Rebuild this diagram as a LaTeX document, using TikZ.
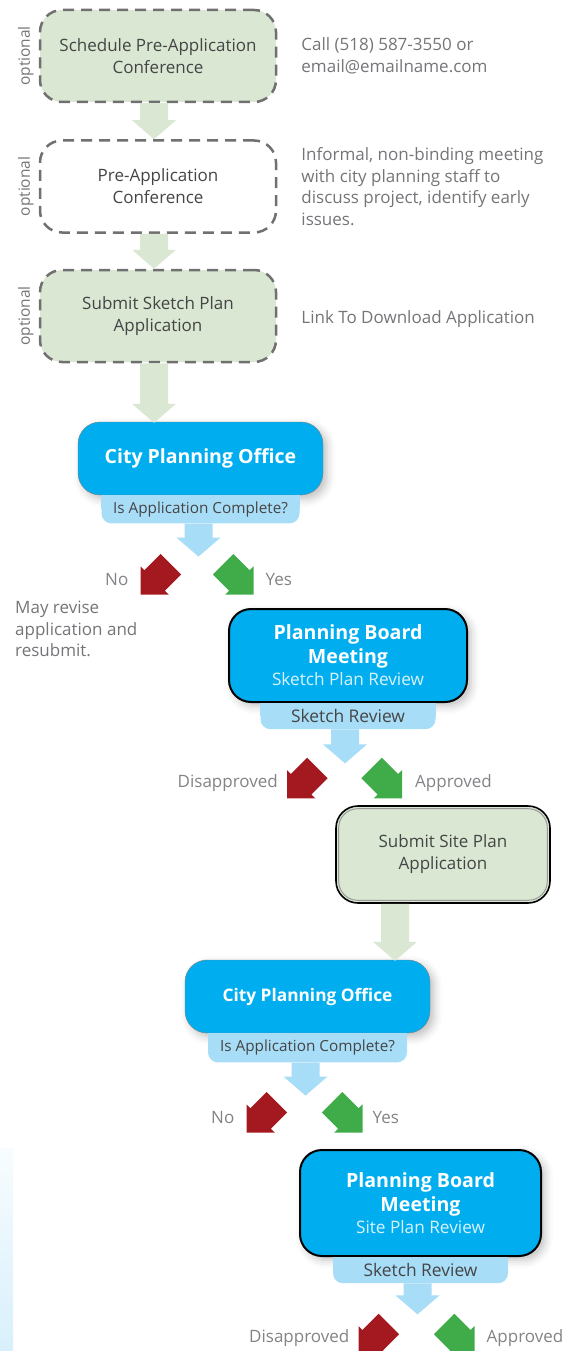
\documentclass[tikz,border=0pt]{standalone}
\usepackage{fontspec}
\setmainfont{Open Sans}
\usetikzlibrary{calc,positioning,shadows.blur}

\definecolor{stepgreen}{HTML}{D9E7D3}
\definecolor{dashgray}{HTML}{707070}
\definecolor{officeblue}{HTML}{00AEEF}
\definecolor{tabblue}{HTML}{A8DDF7}
\definecolor{nored}{HTML}{A3191F}
\definecolor{yesgreen}{HTML}{40AC49}
\definecolor{textgray}{HTML}{747578}
\definecolor{boxtext}{HTML}{454546}

% straight block arrow: colour, top of shaft, tip
\newcommand{\flowarrow}[3]{%
  \fill[#1] let \p1=#2, \p2=#3 in
    (\x2-14,\y1) -- (\x2+14,\y1) -- (\x2+14,\y2+19) -- (\x2+22,\y2+19)
    -- (\x2,\y2) -- (\x2-22,\y2+19) -- (\x2-14,\y2+19) -- cycle;}
% slanted block arrow: colour, tip, direction
\newcommand{\turnarrow}[3]{%
  \fill[#1, shift={#2}, rotate=#3] (0,0) -- (-20,20) -- (-20,14.5) -- (-43,14.5)
    -- (-43,-14.5) -- (-20,-14.5) -- (-20,-20) -- cycle;}

\begin{document}
\begin{tikzpicture}[
    x=1pt, y=1pt,
    stepbox/.style={rounded corners=22pt, minimum width=236pt, minimum height=92pt,
        align=center, text=boxtext, inner sep=0pt, font=\fontsize{17}{22}\selectfont},
    optbox/.style={stepbox, draw=dashgray, line width=2.5pt, dash pattern=on 11pt off 7pt},
    optional/.style={rotate=90, inner sep=0pt, text=textgray, font=\fontsize{15.5}{18}\selectfont},
    note/.style={align=left, inner sep=0pt, text=textgray, font=\fontsize{17}{21.5}\selectfont},
    office/.style={fill=officeblue, draw=gray, rounded corners=22pt, minimum width=245pt,
        minimum height=73pt, align=center, inner sep=0pt, text=white,
        blur shadow={shadow xshift=4pt, shadow yshift=-4pt, shadow blur radius=8pt, shadow opacity=25}},
    board/.style={office, draw=black, line width=2pt, minimum width=238pt, minimum height=93pt,
        font=\fontsize{19.6}{24}\selectfont},
    tab/.style={fill=tabblue, rounded corners=10pt, anchor=north, inner sep=0pt,
        text=boxtext, font=\fontsize{15.3}{18}\selectfont},
    answer/.style={inner sep=0pt, text=textgray!90, font=\fontsize{17}{20}\selectfont},
]
\useasboundingbox (0,0) rectangle (584,-1351);
\clip (0,0) rectangle (584,-1351);

% === optional steps ===
\node[optbox, fill=stepgreen] (sched) at (158,-56) {Schedule Pre-Application\\Conference};
\node[optbox, fill=white] (preapp) at (158,-186.5) {Pre-Application\\Conference};
\node[optbox, fill=stepgreen] (sketch) at (158,-316) {Submit Sketch Plan\\Application};

\foreach \b in {sched,preapp,sketch}
    \node[optional] (opt-\b) at ($(\b.west)+(-13,0)$) {optional};

\node[note, right=24pt of sched] (call) {Call (518) 587-3550 or\\email@emailname.com};
\node[note, right=24pt of preapp] (informal) {Informal, non-binding meeting\\with city planning staff to\\discuss project, identify early\\issues.};
\node[note, right=24pt of sketch, yshift=-3pt] (link) {Link To Download Application};

\flowarrow{stepgreen}{($(sched.south)+(-4,0)$)}{($(preapp.north)+(-4,0)$)}
\flowarrow{stepgreen}{($(preapp.south)+(-4,0)$)}{($(sketch.north)+(-4,0)$)}

% === sketch plan: office check ===
\node[office, font=\bfseries\fontsize{19.5}{24}\selectfont] (cpoA) at (200.5,-458.5) {City Planning Office};
\node[tab, minimum width=198pt, minimum height=28pt] (tabA) at (cpoA.south) {};
\fill[tabblue] (tabA.north west) rectangle (tabA.east);
\node[tab, anchor=center] (isA) at (tabA.center) {Is Application Complete?};
\flowarrow{stepgreen}{($(sketch.south)+(-4,0)$)}{($(sketch.south |- cpoA.north)+(-4,-1)$)}

\coordinate (qA) at ($(tabA.south)+(-2,-33)$);
\flowarrow{tabblue}{(tabA.south)}{(qA)}
\coordinate (noA) at ($(qA)+(-58,-38)$);
\coordinate (yesA) at ($(qA)+(55,-38)$);
\turnarrow{nored}{(noA)}{-135}
\turnarrow{yesgreen}{(yesA)}{-45}
\node[answer, anchor=east] (noTxtA) at ($(noA)+(-12,15)$) {No};
\node[answer, anchor=west] (yesTxtA) at ($(yesA)+(12,15)$) {Yes};
\node[note, anchor=north west] (revise) at (15,-601) {May revise\\application and\\resubmit.};

% === sketch plan: board review ===
\node[board] (pbmA) at (348,-655.5) {\textbf{Planning Board}\\\textbf{Meeting}\\[-2pt]
    {\fontsize{17.2}{20}\selectfont\color{white!85!officeblue}Sketch Plan Review}};
\node[tab, minimum width=175pt, minimum height=26pt] (tabB) at (pbmA.south) {};
\fill[tabblue] (tabB.north west) rectangle (tabB.east);
\node[tab, anchor=center, font=\fontsize{17.4}{20}\selectfont] (revB) at (tabB.center) {Sketch Review};

\coordinate (qB) at ($(tabB.south)+(-3,-34)$);
\flowarrow{tabblue}{($(tabB.south)+(-3,0)$)}{(qB)}
\coordinate (noB) at ($(qB)+(-58,-35)$);
\coordinate (yesB) at ($(qB)+(57,-35)$);
\turnarrow{nored}{(noB)}{-135}
\turnarrow{yesgreen}{(yesB)}{-45}
\node[answer, anchor=east] (noTxtB) at ($(noB)+(-9,15)$) {Disapproved};
\node[answer, anchor=west] (yesTxtB) at ($(yesB)+(13,15)$) {Approved};

% === site plan application ===
\node[stepbox, fill=stepgreen, draw=black, line width=1.6pt, minimum width=214pt,
    minimum height=97pt] (site) at (443,-854.5) {Submit Site Plan\\Application};
\draw[gray!80, line width=1pt, rounded corners=19pt]
    ($(site.north west)+(3.5,-3.5)$) rectangle ($(site.south east)+(-3.5,3.5)$);

% === site plan: office check ===
\node[office, font=\bfseries\fontsize{17.3}{21}\selectfont] (cpoB) at (307.5,-996.5) {City Planning Office};
\node[tab, minimum width=199pt, minimum height=29pt] (tabC) at (cpoB.south) {};
\fill[tabblue] (tabC.north west) rectangle (tabC.east);
\node[tab, anchor=center] (isC) at (tabC.center) {Is Application Complete?};
\flowarrow{stepgreen}{($(site.south)+(-48,0)$)}{($(site.south |- cpoB.north)+(-48,-1)$)}

\coordinate (qC) at ($(tabC.south)+(-2,-33)$);
\flowarrow{tabblue}{($(tabC.south)+(-2,0)$)}{(qC)}
\coordinate (noC) at ($(qC)+(-59,-37)$);
\coordinate (yesC) at ($(qC)+(57,-37)$);
\turnarrow{nored}{(noC)}{-135}
\turnarrow{yesgreen}{(yesC)}{-45}
\node[answer, anchor=east] (noTxtC) at ($(noC)+(-12,15)$) {No};
\node[answer, anchor=west] (yesTxtC) at ($(yesC)+(10,15)$) {Yes};

% === site plan: board review ===
\node[board, minimum width=241pt, minimum height=106pt] (pbmB) at (420.5,-1203) {\textbf{Planning Board}\\\textbf{Meeting}\\[-2pt]
    {\fontsize{17.2}{20}\selectfont\color{white!85!officeblue}Site Plan Review}};
\node[tab, minimum width=175pt, minimum height=26pt] (tabD) at (pbmB.south) {};
\fill[tabblue] (tabD.north west) rectangle (tabD.east);
\node[tab, anchor=center, font=\fontsize{17.4}{20}\selectfont] (revD) at (tabD.center) {Sketch Review};

\coordinate (qD) at ($(tabD.south)+(-3,-31)$);
\flowarrow{tabblue}{($(tabD.south)+(-3,0)$)}{(qD)}
\coordinate (noD) at ($(qD)+(-59,-40)$);
\coordinate (yesD) at ($(qD)+(57,-40)$);
\turnarrow{nored}{(noD)}{-135}
\turnarrow{yesgreen}{(yesD)}{-45}
\node[answer, anchor=east] (noTxtD) at ($(noD)+(-9,16)$) {Disapproved};
\node[answer, anchor=west] (yesTxtD) at ($(yesD)+(12,16)$) {Approved};

% pale strip at the lower left edge
\shade[top color=tabblue!8, bottom color=tabblue!45] (0,-1148) rectangle (13,-1351);

\end{tikzpicture}
\end{document}
